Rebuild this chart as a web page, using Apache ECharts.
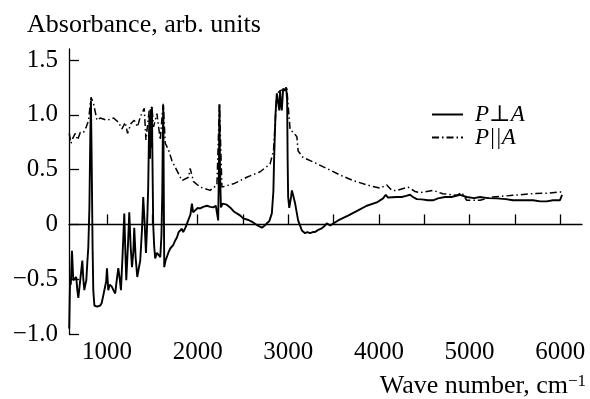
<!DOCTYPE html>
<html>
<head>
<meta charset="utf-8">
<script src="https://cdn.jsdelivr.net/npm/echarts@6/dist/echarts.min.js"></script>
<style>
  html, body { margin: 0; padding: 0; background: #fff; }
  #chart { width: 590px; height: 399px; }
</style>
</head>
<body>
<div id="chart"></div>
<script>
// Wave numbers (cm^-1) and absorbance for the perpendicular polarisation
const perpWave = [582,592,600,613,627,645,660,672,683,705,727,738,749,760,771,782,793,805,815,822,830,840,848,860,889,910,925,940,958,975,990,999,1013,1030,1054,1070,1090,1105,1124,1140,1153,1170,1190,1200,1212,1230,1245,1260,1275,1290,1300,1315,1333,1350,1366,1385,1399,1415,1429,1440,1454,1462,1468,1474,1480,1487,1495,1502,1509,1520,1531,1550,1570,1587,1600,1609,1615,1620,1625,1631,1645,1660,1680,1697,1715,1729,1750,1771,1790,1807,1825,1840,1865,1895,1920,1936,1950,1975,2000,2028,2060,2101,2140,2171,2200,2212,2226,2234,2240,2246,2256,2275,2292,2320,2358,2395,2432,2470,2502,2560,2612,2660,2708,2740,2763,2790,2818,2835,2843,2858,2873,2890,2900,2909,2918,2928,2943,2960,2976,2987,2992,2998,3010,3020,3030,3039,3053,3075,3108,3149,3185,3210,3240,3270,3295,3330,3369,3400,3424,3440,3461,3549,3659,3769,3865,3976,4045,4075,4100,4122,4200,4251,4300,4343,4376,4417,4472,4541,4596,4651,4729,4800,4894,4968,5050,5115,5200,5299,5400,5478,5600,5699,5780,5850,5920,5997,6020,6026];
const perpAbs = [-0.95,-0.49,-0.55,-0.24,-0.51,-0.50,-0.48,-0.60,-0.67,-0.68,-0.33,-0.50,-0.60,-0.55,-0.51,-0.35,-0.21,0.15,0.80,1.13,0.60,-0.20,-0.60,-0.74,-0.75,-0.76,-0.74,-0.72,-0.65,-0.58,-0.52,-0.40,-0.60,-0.55,-0.57,-0.60,-0.63,-0.52,-0.40,-0.50,-0.60,-0.30,0.10,-0.20,-0.51,-0.20,0.11,-0.20,-0.39,-0.25,-0.03,-0.30,-0.48,-0.40,-0.33,-0.05,0.25,0.00,-0.26,-0.05,0.34,0.80,1.00,0.60,1.05,0.70,1.07,0.50,0.00,-0.20,-0.31,-0.26,-0.28,-0.30,-0.10,0.28,0.80,1.09,0.40,-0.39,-0.33,-0.33,-0.25,-0.22,-0.21,-0.19,-0.15,-0.12,-0.07,-0.055,-0.04,-0.07,-0.03,0.036,0.09,0.19,0.11,0.13,0.15,0.146,0.16,0.17,0.16,0.155,0.17,0.16,0.036,0.50,1.095,0.50,0.155,0.19,0.20,0.18,0.155,0.12,0.10,0.08,0.055,0.04,0.018,-0.01,-0.03,-0.01,0.01,0.03,0.10,0.30,0.60,1.00,1.195,1.10,1.04,1.22,1.10,1.04,1.24,1.22,1.25,1.13,0.60,0.25,0.15,0.155,0.25,0.31,0.265,0.19,0.036,-0.055,-0.08,-0.07,-0.08,-0.07,-0.07,-0.05,-0.036,-0.015,0.01,0.00,-0.01,0.036,0.08,0.128,0.17,0.20,0.237,0.27,0.245,0.25,0.25,0.25,0.26,0.27,0.25,0.23,0.228,0.22,0.22,0.237,0.25,0.25,0.27,0.25,0.24,0.25,0.24,0.237,0.23,0.22,0.22,0.22,0.21,0.21,0.22,0.22,0.27,0.27];

// Wave numbers (cm^-1) and absorbance for the parallel polarisation
const paraWave = [583,602,624,649,675,705,741,771,796,823,851,889,925,999,1072,1127,1164,1201,1226,1264,1300,1336,1366,1410,1429,1465,1495,1513,1550,1587,1612,1620,1642,1678,1716,1771,1826,1899,1917,1954,2028,2137,2212,2240,2267,2395,2542,2689,2798,2836,2860,2873,2909,2983,3020,3056,3094,3108,3163,3273,3424,3571,3714,3865,4012,4086,4141,4196,4321,4398,4453,4596,4704,4858,4913,4968,5115,5258,5478,5699,5850,5997,6026];
const paraAbs = [0.83,0.74,0.79,0.83,0.77,0.84,0.84,0.89,0.95,1.16,1.10,0.95,0.97,0.95,0.97,0.93,0.87,0.93,0.83,0.92,0.95,0.89,0.98,1.06,0.77,1.04,1.07,0.89,1.01,0.77,1.04,1.10,0.74,0.68,0.58,0.49,0.40,0.43,0.51,0.39,0.34,0.31,0.36,1.10,0.34,0.37,0.43,0.48,0.55,0.67,1.00,1.19,1.22,1.24,0.86,0.84,0.80,0.67,0.61,0.57,0.51,0.45,0.40,0.36,0.33,0.36,0.31,0.31,0.34,0.30,0.29,0.31,0.28,0.265,0.29,0.22,0.22,0.25,0.265,0.28,0.285,0.295,0.295];

// Axis ticks and labels
const xTicks = [1000,1500,2000,2500,3000,3500,4000,4500,5000,5500,6000];
const xLabels = [1000,2000,3000,4000,5000,6000];
const yTicks = [-1,-0.5,0,0.5,1,1.5];

const seriesNames = ['P\u22A5A', 'P||A'];

const zip = (xs, ys) => xs.map((x, i) => [x, ys[i]]);

const serif = '"Liberation Serif", "DejaVu Serif", serif';

const chart = echarts.init(document.getElementById('chart'), null, { renderer: 'canvas' });

chart.setOption({
  animation: false,
  backgroundColor: '#ffffff',
  title: [
    {
      text: 'Absorbance, arb. units',
      left: 27, top: 12, padding: 0,
      textStyle: { fontFamily: serif, fontSize: 26, fontWeight: 'normal', color: '#000' }
    },
    {
      text: 'Wave number, cm{sup|\u22121}',
      right: 4, top: 373, padding: 0,
      textStyle: {
        fontFamily: serif, fontSize: 26, fontWeight: 'normal', color: '#000',
        rich: { sup: { fontFamily: serif, fontSize: 17, color: '#000', verticalAlign: 'top', padding: [0, 0, 10, 0] } }
      }
    }
  ],
  legend: {
    orient: 'vertical',
    left: 426, top: 98,
    itemWidth: 31, itemHeight: 14, itemGap: 0,
    data: seriesNames,
    itemStyle: { opacity: 0 },
    textStyle: {
      fontFamily: serif, fontSize: 23, fontStyle: 'italic', color: '#000',
      lineHeight: 22, padding: [0, 0, 0, 7]
    }
  },
  grid: { left: 69, right: 8, top: 49, bottom: 65, containLabel: false },
  xAxis: {
    type: 'value',
    min: 580, max: 6240,
    axisLine: { show: true, lineStyle: { color: '#000', width: 1.3 } },
    axisTick: { show: true, inside: true, length: 10, customValues: xTicks, lineStyle: { color: '#000', width: 1.3 } },
    axisLabel: {
      customValues: xLabels, margin: 6,
      fontFamily: serif, fontSize: 25, color: '#000',
      formatter: v => String(v)
    },
    splitLine: { show: false }
  },
  yAxis: {
    type: 'value',
    min: -1, max: 1.6,
    axisLine: { show: true, lineStyle: { color: '#000', width: 1.3 } },
    axisTick: { show: true, inside: true, length: 10, customValues: yTicks, lineStyle: { color: '#000', width: 1.3 } },
    axisLabel: {
      customValues: yTicks, margin: 11,
      fontFamily: serif, fontSize: 25, color: '#000',
      formatter: v => v === 0 ? '0' : (v < 0 ? '\u2212' + Math.abs(v).toFixed(1) : v.toFixed(1))
    },
    splitLine: { show: false }
  },
  series: [
    {
      name: seriesNames[0],
      type: 'line',
      data: zip(perpWave, perpAbs),
      symbol: 'none',
      lineStyle: { color: '#000', width: 1.9, type: 'solid' },
      itemStyle: { color: '#000' }
    },
    {
      name: seriesNames[1],
      type: 'line',
      data: zip(paraWave, paraAbs),
      symbol: 'none',
      lineStyle: { color: '#000', width: 1.5, type: [7, 3, 1.5, 3] },
      itemStyle: { color: '#000' }
    }
  ]
});
</script>
</body>
</html>
